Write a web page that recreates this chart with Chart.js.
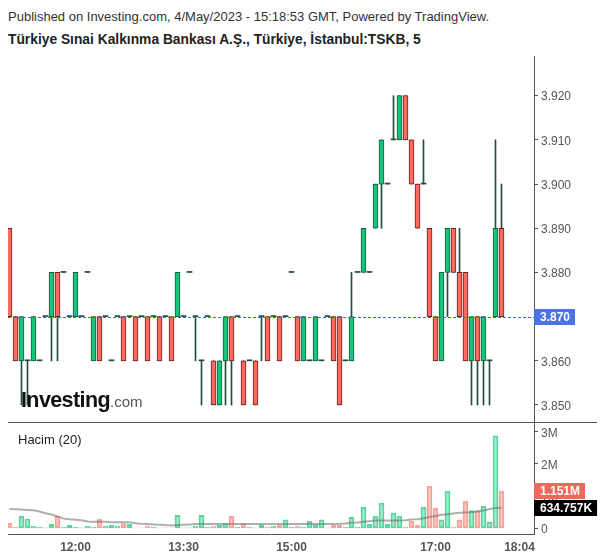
<!DOCTYPE html>
<html>
<head>
<meta charset="utf-8">
<script src="https://cdn.jsdelivr.net/npm/chart.js@4.4.0/dist/chart.umd.min.js"></script>
<style>
  body { margin: 0; background: #fff; font-family: "Liberation Sans", Arial, sans-serif; }
  #wrap { position: relative; width: 600px; height: 558px; overflow: hidden; background: #fff; }
  canvas { position: absolute; left: 0; }
  #price { top: 56px; }
  #vol { top: 422px; }
  .txt { position: absolute; white-space: nowrap; z-index: 2; }
  #pub { left: 8px; top: 9px; font-size: 13px; color: #333; }
  #ttl { left: 8px; top: 32px; font-size: 13.8px; font-weight: bold; color: #222; }
  #hacim { left: 18px; top: 432px; font-size: 13px; color: #222; }
  #logo { left: 21px; top: 388px; }
  #logo b { font-size: 21.5px; letter-spacing: -0.6px; color: #111; }
  #logo span { font-size: 15px; color: #555; }
</style>
</head>
<body>
<div id="wrap">
  <div class="txt" id="pub">Published on Investing.com, 4/May/2023 - 15:18:53 GMT, Powered by TradingView.</div>
  <div class="txt" id="ttl">Türkiye Sınai Kalkınma Bankası A.Ş., Türkiye, İstanbul:TSKB, 5</div>
  <canvas id="price" width="600" height="366"></canvas>
  <canvas id="vol" width="600" height="136"></canvas>
  <div class="txt" id="hacim">Hacim (20)</div>
  <div class="txt" id="logo"><b>Investing</b><span>.com</span></div>
</div>
<script>
// 5-minute bars, index 0 = 11:05
const opens = [
  3.89,3.87,3.86,3.86,3.86,3.86,3.87,3.87,3.88,3.88,
  3.87,3.87,3.87,3.88,3.86,3.87,3.87,3.86,3.87,3.87,
  3.87,3.87,3.87,3.87,3.87,3.87,3.87,3.87,3.87,3.87,
  3.88,3.87,3.86,3.87,3.86,3.85,3.86,3.87,3.87,3.86,
  3.86,3.86,3.87,3.87,3.87,3.87,3.87,3.88,3.87,3.86,
  3.86,3.86,3.86,3.87,3.87,3.87,3.86,3.86,3.88,3.88,
  3.88,3.89,3.90,3.90,3.91,3.91,3.92,3.91,3.90,3.90,
  3.89,3.87,3.86,3.88,3.89,3.88,3.88,3.86,3.87,3.86,
  3.86,3.87,3.89];
const highs = [
  3.89,3.87,3.87,3.86,3.87,3.86,3.87,3.88,3.88,3.88,
  3.87,3.88,3.87,3.88,3.87,3.87,3.87,3.86,3.87,3.87,
  3.87,3.87,3.87,3.87,3.87,3.87,3.87,3.87,3.88,3.87,
  3.88,3.87,3.86,3.87,3.86,3.86,3.87,3.87,3.87,3.86,
  3.86,3.86,3.87,3.87,3.87,3.87,3.87,3.88,3.87,3.87,
  3.86,3.87,3.86,3.87,3.87,3.87,3.86,3.88,3.88,3.89,
  3.88,3.90,3.91,3.90,3.92,3.92,3.92,3.91,3.90,3.91,
  3.89,3.87,3.88,3.89,3.89,3.89,3.88,3.87,3.87,3.87,
  3.86,3.91,3.90];
const lows = [
  3.87,3.86,3.85,3.85,3.86,3.86,3.87,3.86,3.86,3.88,
  3.87,3.87,3.87,3.88,3.86,3.86,3.87,3.86,3.87,3.86,
  3.87,3.86,3.87,3.86,3.87,3.86,3.87,3.86,3.87,3.87,
  3.88,3.86,3.85,3.87,3.85,3.85,3.85,3.85,3.87,3.85,
  3.86,3.85,3.86,3.86,3.87,3.86,3.87,3.88,3.86,3.86,
  3.86,3.86,3.86,3.87,3.86,3.85,3.86,3.86,3.88,3.88,
  3.88,3.89,3.89,3.90,3.91,3.91,3.91,3.90,3.89,3.90,
  3.87,3.86,3.86,3.87,3.88,3.87,3.86,3.85,3.85,3.85,
  3.85,3.87,3.87];
const closes = [
  3.87,3.86,3.87,3.86,3.87,3.86,3.87,3.88,3.87,3.88,
  3.87,3.88,3.87,3.88,3.87,3.86,3.87,3.86,3.87,3.86,
  3.87,3.86,3.87,3.86,3.87,3.86,3.87,3.86,3.88,3.87,
  3.88,3.87,3.86,3.87,3.85,3.86,3.87,3.86,3.87,3.85,
  3.86,3.85,3.87,3.86,3.87,3.86,3.87,3.88,3.86,3.87,
  3.86,3.87,3.86,3.87,3.86,3.85,3.86,3.87,3.88,3.89,
  3.88,3.90,3.91,3.90,3.91,3.92,3.91,3.90,3.89,3.90,
  3.87,3.86,3.88,3.89,3.88,3.87,3.86,3.87,3.86,3.87,
  3.86,3.89,3.87];
// volume in millions
const volumes = [
  0.155,0.03,0.37,0.29,0.06,0.03,0.01,0.12,0.37,0.03,
  0.09,0.03,0.01,0.07,0.03,0.28,0.06,0.09,0.06,0.15,
  0.12,0.01,0.01,0.06,0.03,0.01,0.01,0.01,0.40,0.01,
  0.01,0.07,0.40,0.03,0.06,0.09,0.15,0.37,0.03,0.15,
  0.03,0.01,0.10,0.03,0.07,0.09,0.26,0.03,0.07,0.03,
  0.22,0.11,0.26,0.01,0.09,0.09,0.03,0.34,0.03,0.65,
  0.12,0.37,0.78,0.12,0.47,0.37,0.03,0.22,0.09,0.65,
  1.30,0.62,0.26,1.15,0.03,0.26,0.84,0.55,0.55,0.68,
  0.19,2.87,1.151];
// volume MA(20), millions
const volMA = [
  0.60,0.59,0.58,0.57,0.56,0.52,0.47,0.43,0.37,0.30,
  0.28,0.265,0.25,0.21,0.20,0.20,0.20,0.19,0.19,0.19,
  0.19,0.16,0.14,0.13,0.12,0.11,0.10,0.09,0.10,0.11,
  0.12,0.13,0.135,0.135,0.135,0.135,0.135,0.135,0.135,0.135,
  0.135,0.135,0.135,0.135,0.135,0.135,0.135,0.135,0.135,0.135,
  0.135,0.135,0.135,0.135,0.135,0.14,0.15,0.17,0.18,0.20,
  0.22,0.24,0.24,0.24,0.24,0.24,0.25,0.27,0.28,0.31,
  0.35,0.38,0.42,0.44,0.46,0.48,0.49,0.50,0.52,0.55,
  0.60,0.63,0.635];
const priceTicks = [3.85, 3.86, 3.87, 3.88, 3.89, 3.90, 3.91, 3.92];
const volTicks = [0, 1, 2, 3];
const timeTickIndex = [11, 29, 47, 71, 85];
const timeTickLabels = ['12:00', '13:30', '15:00', '17:00', '18:04'];
const lastVolLabel = '1.151M';
const lastMALabel = '634.757K';

const FONT = '"Liberation Sans", Arial, sans-serif';
Chart.defaults.font.family = FONT;
const GREEN = '#16c47b', GREEN_B = '#1d5a3d';
const RED = '#ff6b5f', RED_B = '#6a1f1f';
const WICK = '#1f4f38';
const AXIS = '#555';

const idx = opens.map((_, i) => i);
const xMin = -0.25, xMax = xMin + 526 / 6;
const isDoji = i => opens[i] === closes[i];

function noPad(s) { s.paddingTop = 0; s.paddingBottom = 0; s.paddingLeft = 0; s.paddingRight = 0; }

function tag(ctx, text, x, y, bg) {
  ctx.save();
  ctx.font = 'bold 12px ' + FONT;
  const w = ctx.measureText(text).width + 11;
  ctx.fillStyle = bg;
  ctx.fillRect(x, Math.round(y) - 8, w, 16);
  ctx.fillStyle = '#fff';
  ctx.textBaseline = 'middle';
  ctx.fillText(text, x + 6, Math.round(y) + 0.5);
  ctx.restore();
}

const lastLine = {
  id: 'lastLine',
  afterDatasetsDraw(chart) {
    const { ctx, chartArea, scales } = chart;
    const y = Math.round(scales.y.getPixelForValue(closes[closes.length - 1])) + 0.5;
    ctx.save();
    ctx.strokeStyle = '#3d68dc';
    ctx.setLineDash([3, 2]);
    ctx.lineWidth = 1;
    ctx.beginPath();
    ctx.moveTo(chartArea.left, y);
    ctx.lineTo(chartArea.right, y);
    ctx.stroke();
    ctx.restore();
  },
  afterDraw(chart) {
    const { ctx, chartArea, scales } = chart;
    const v = closes[closes.length - 1];
    tag(ctx, v.toFixed(3), chartArea.right, scales.y.getPixelForValue(v), '#4a74e6');
  }
};

new Chart(document.getElementById('price'), {
  type: 'bar',
  data: {
    datasets: [
      {
        label: 'body',
        data: idx.map(i => ({ x: i, y: [opens[i], closes[i]] })),
        barThickness: 5,
        grouped: false,
        order: 1,
        minBarLength: 1,
        borderSkipped: false,
        backgroundColor: c => isDoji(c.dataIndex) ? WICK : (closes[c.dataIndex] > opens[c.dataIndex] ? GREEN : RED),
        borderColor: c => closes[c.dataIndex] >= opens[c.dataIndex] ? GREEN_B : RED_B,
        borderWidth: c => isDoji(c.dataIndex) ? 0 : 1
      },
      {
        label: 'wick',
        data: idx.map(i => ({ x: i, y: [lows[i], highs[i]] })),
        barThickness: 1,
        grouped: false,
        order: 2,
        backgroundColor: WICK,
        borderWidth: 0
      }
    ]
  },
  options: {
    responsive: false,
    animation: false,
    layout: { padding: { left: 8, top: 0, right: 0, bottom: 0 } },
    plugins: { legend: { display: false }, tooltip: { enabled: false } },
    scales: {
      x: { type: 'linear', min: xMin, max: xMax, offset: false, display: false },
      y: {
        position: 'right',
        min: 3.84615, max: 3.92898,
        afterBuildTicks: s => { s.ticks = priceTicks.map(v => ({ value: v })); },
        afterFit: s => { s.width = 66; noPad(s); },
        grid: { drawOnChartArea: false, drawTicks: true, tickLength: 4, color: AXIS },
        border: { display: true, color: AXIS },
        ticks: { color: AXIS, font: { size: 12 }, padding: 3, labelOffset: 1.5, callback: v => Number(v).toFixed(3) }
      }
    }
  },
  plugins: [lastLine]
});

const volLabels = {
  id: 'volLabels',
  afterDraw(chart) {
    const { ctx, chartArea, scales } = chart;
    ctx.save();
    ctx.fillStyle = AXIS;
    ctx.fillRect(chartArea.left, chartArea.top - 1, chart.width - chartArea.left - 3, 1);
    ctx.restore();
    const n = volumes.length - 1;
    tag(ctx, lastVolLabel, chartArea.right, scales.y.getPixelForValue(volumes[n]), '#f2675b');
    tag(ctx, lastMALabel, chartArea.right, scales.y.getPixelForValue(volMA[n]), '#000');
  }
};

new Chart(document.getElementById('vol'), {
  type: 'bar',
  data: {
    datasets: [
      {
        type: 'line',
        label: 'MA',
        data: idx.map(i => ({ x: i, y: volMA[i] })),
        borderColor: 'rgba(110,110,110,0.55)',
        borderWidth: 2,
        pointRadius: 0,
        tension: 0,
        order: 1
      },
      {
        label: 'Hacim',
        data: idx.map(i => ({ x: i, y: volumes[i] })),
        barThickness: 5,
        grouped: false,
        order: 2,
        borderSkipped: false,
        borderWidth: 1,
        backgroundColor: c => closes[c.dataIndex] >= opens[c.dataIndex] ? 'rgba(40,205,135,0.42)' : 'rgba(255,105,95,0.38)',
        borderColor: c => closes[c.dataIndex] >= opens[c.dataIndex] ? 'rgba(40,200,130,0.75)' : 'rgba(245,110,100,0.6)'
      }
    ]
  },
  options: {
    responsive: false,
    animation: false,
    layout: { padding: { left: 8, top: 1, right: 0, bottom: 0 } },
    plugins: { legend: { display: false }, tooltip: { enabled: false } },
    scales: {
      x: {
        type: 'linear', min: xMin, max: xMax, offset: false,
        afterBuildTicks: s => { s.ticks = timeTickIndex.map(v => ({ value: v })); },
        afterFit: s => { s.height = 24; noPad(s); },
        grid: { display: true, drawOnChartArea: false, drawTicks: false },
        border: { display: true, color: AXIS },
        ticks: {
          color: AXIS, font: { size: 12, weight: 'bold' }, padding: 6, maxRotation: 0, autoSkip: false,
          callback: v => timeTickLabels[timeTickIndex.indexOf(v)]
        }
      },
      y: {
        position: 'right',
        min: -0.177, max: 3.27,
        afterBuildTicks: s => { s.ticks = volTicks.map(v => ({ value: v })); },
        afterFit: s => { s.width = 66; noPad(s); },
        grid: { drawOnChartArea: false, drawTicks: true, tickLength: 4, color: AXIS },
        border: { display: true, color: AXIS },
        ticks: { color: AXIS, font: { size: 12 }, padding: 3, labelOffset: 1.5, callback: v => v === 0 ? '0' : v + 'M' }
      }
    }
  },
  plugins: [volLabels]
});
</script>
</body>
</html>
